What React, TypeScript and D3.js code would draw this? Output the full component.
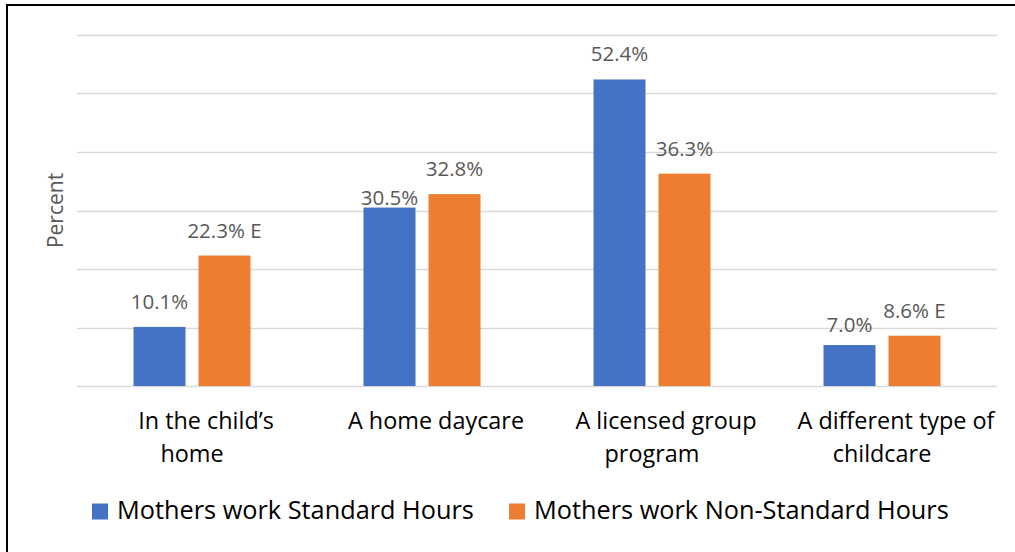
import React, { useEffect, useRef } from 'react';
import * as d3 from 'd3';

const categories = [
    ["In the child\u2019s", "home"],
    ["A home daycare"],
    ["A licensed group", "program"],
    ["A different type of", "childcare"],
];
const seriesNames = ["Mothers work Standard Hours", "Mothers work Non-Standard Hours"];
const standardHours = [10.1, 30.5, 52.4, 7.0];
const nonStandardHours = [22.3, 32.8, 36.3, 8.6];
const standardLabels = ["10.1%", "30.5%", "52.4%", "7.0%"];
const nonStandardLabels = ["22.3% E", "32.8%", "36.3%", "8.6% E"];
const yTicks = [0, 10, 20, 30, 40, 50, 60];

const colors = ["#4472C4", "#ED7D31"];
const FONT = "'Open Sans', sans-serif";

const App = () => {
    const ref = useRef<SVGSVGElement>(null);

    useEffect(() => {
        const svg = d3.select(ref.current);
        svg.selectAll("*").remove();

        const width = 1015;
        const height = 552;
        const margin = { top: 35, right: 18, bottom: 166, left: 77 };

        const keys = categories.map((c, i) => String(i));
        const rows = keys.map((k, i) => ({
            key: k,
            values: [
                { s: 0, v: standardHours[i], label: standardLabels[i] },
                { s: 1, v: nonStandardHours[i], label: nonStandardLabels[i] },
            ],
        }));

        const x0 = d3.scaleBand().domain(keys).range([margin.left, width - margin.right]);
        const x1 = d3.scaleBand<number>()
            .domain([0, 1])
            .range([(x0.bandwidth() - 117) / 2, (x0.bandwidth() + 117) / 2])
            .paddingInner(0.2);
        const y = d3.scaleLinear().domain([0, 60]).range([height - margin.bottom, margin.top]);

        // frame
        svg.append("rect")
            .attr("x", 7).attr("y", 5)
            .attr("width", 1020).attr("height", 560)
            .attr("fill", "white")
            .attr("stroke", "black")
            .attr("stroke-width", 2);

        // gridlines
        svg.append("g")
            .selectAll("line")
            .data(yTicks)
            .join("line")
            .attr("x1", margin.left)
            .attr("x2", width - margin.right)
            .attr("y1", d => Math.round(y(d)) + 0.5)
            .attr("y2", d => Math.round(y(d)) + 0.5)
            .attr("stroke", "#d9d9d9")
            .attr("stroke-width", 1.5);

        // y title
        svg.append("text")
            .attr("transform", `translate(63,${(y(0) + y(60)) / 2}) rotate(-90)`)
            .attr("text-anchor", "middle")
            .attr("font-family", FONT)
            .attr("font-size", 21)
            .attr("fill", "#595959")
            .text("Percent");

        const groups = svg.append("g")
            .selectAll("g")
            .data(rows)
            .join("g")
            .attr("transform", d => `translate(${x0(d.key)},0)`);

        groups.selectAll("rect")
            .data(d => d.values)
            .join("rect")
            .attr("x", d => x1(d.s)!)
            .attr("width", x1.bandwidth())
            .attr("y", d => y(d.v))
            .attr("height", d => y(0) - y(d.v))
            .attr("fill", d => colors[d.s]);

        // data labels; blue label drops down when it crowds the orange one
        groups.selectAll("text.val")
            .data(d => {
                const gap = y(d.values[0].v) - y(d.values[1].v);
                return d.values.map(v => ({ ...v, drop: v.s === 0 && gap > 0 && gap < 16 ? (gap > 12 ? 15 : 5) : 0 }));
            })
            .join("text")
            .attr("class", "val")
            .attr("x", d => x1(d.s)! + x1.bandwidth() / 2)
            .attr("y", d => y(d.v) - 18 + d.drop)
            .attr("text-anchor", "middle")
            .attr("font-family", FONT)
            .attr("font-size", 20.5)
            .attr("fill", "#595959")
            .text(d => d.label);

        // category labels
        svg.append("g")
            .selectAll("text")
            .data(categories)
            .join("text")
            .attr("x", (d, i) => x0(keys[i])! + x0.bandwidth() / 2)
            .attr("y", 429)
            .attr("text-anchor", "middle")
            .attr("font-family", FONT)
            .attr("font-size", 23.4)
            .attr("fill", "#000")
            .each(function (lines, i) {
                const cx = x0(keys[i])! + x0.bandwidth() / 2;
                d3.select(this).selectAll("tspan")
                    .data(lines)
                    .join("tspan")
                    .attr("x", (l, j) => (j === 0 ? cx + 14 : cx))
                    .attr("dy", (l, j) => (j === 0 ? 0 : 33))
                    .text(l => l);
            });

        // legend
        const legendX = [92, 509];
        const legend = svg.append("g")
            .selectAll("g")
            .data(seriesNames)
            .join("g")
            .attr("transform", (d, i) => `translate(${legendX[i]},0)`);
        legend.append("rect")
            .attr("x", 0).attr("y", 503.5)
            .attr("width", 16).attr("height", 16)
            .attr("fill", (d, i) => colors[i]);
        legend.append("text")
            .attr("x", 25).attr("y", 519)
            .attr("font-family", FONT)
            .attr("font-size", 25.3)
            .attr("fill", "#000")
            .text(d => d);
    }, []);

    return (
        <svg
            ref={ref}
            width={1015}
            height={552}
            style={{ position: "absolute", left: 0, top: 0, background: "white" }}
        />
    );
};

export default App;
